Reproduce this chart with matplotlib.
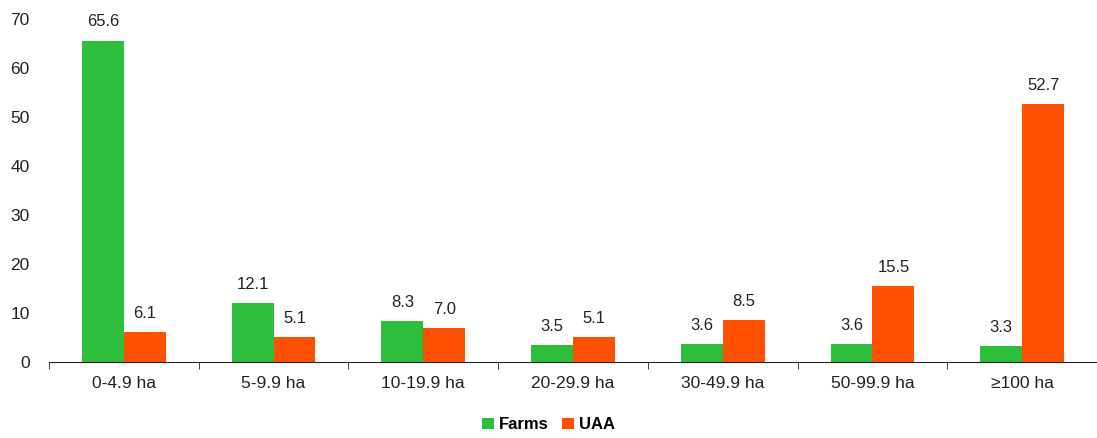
import numpy as np
import matplotlib
matplotlib.use("Agg")
import matplotlib.pyplot as plt

plt.rcParams['font.family'] = ['Liberation Sans', 'DejaVu Sans']

categories = ['0-4.9 ha', '5-9.9 ha', '10-19.9 ha', '20-29.9 ha',
              '30-49.9 ha', '50-99.9 ha', '≥100 ha']
farms = [65.6, 12.1, 8.3, 3.5, 3.6, 3.6, 3.3]
uaa = [6.1, 5.1, 7.0, 5.1, 8.5, 15.5, 52.7]

green = '#2DBE3C'
orange = '#FF5000'

fig = plt.figure(figsize=(10.97, 4.38), dpi=100)
ax = fig.add_axes([49 / 1097, (438 - 362) / 438, (1097 - 49) / 1097, 343 / 438])

x = np.arange(len(categories))
w = 0.28
b1 = ax.bar(x - w / 2, farms, w, color=green, label='Farms')
b2 = ax.bar(x + w / 2, uaa, w, color=orange, label='UAA')

for bars, vals in [(b1, farms), (b2, uaa)]:
    for bar, v in zip(bars, vals):
        ax.annotate(f'{v:.1f}', (bar.get_x() + bar.get_width() / 2, v),
                    xytext=(0, 8), textcoords='offset points',
                    ha='center', va='bottom', fontsize=12, color='#222222')

ax.set_xlim(-0.5, len(categories) - 0.5)
ax.set_ylim(0, 70)
ax.set_yticks(range(0, 71, 10))
ax.set_xticks(np.arange(len(categories) + 1) - 0.5, minor=True)
ax.set_xticks(x)
ax.set_xticklabels(categories)
ax.tick_params(axis='x', which='major', length=0, pad=10, labelsize=12.5, colors='#222222')
ax.tick_params(axis='x', which='minor', length=5, direction='out', color='#222222')
ax.tick_params(axis='y', length=0, pad=14, labelsize=12.5, colors='#222222')

for s in ['top', 'right', 'left']:
    ax.spines[s].set_visible(False)
ax.spines['bottom'].set_color('#222222')
ax.set_clip_on(False)

fig.legend(handles=[b1, b2], loc='center', bbox_to_anchor=(0.5, 0.03),
           ncol=2, frameon=False, handlelength=0.7, handleheight=0.7,
           handletextpad=0.3, columnspacing=0.8,
           prop={'size': 12, 'weight': 'bold'})

fig.savefig('out.png', dpi=100)
